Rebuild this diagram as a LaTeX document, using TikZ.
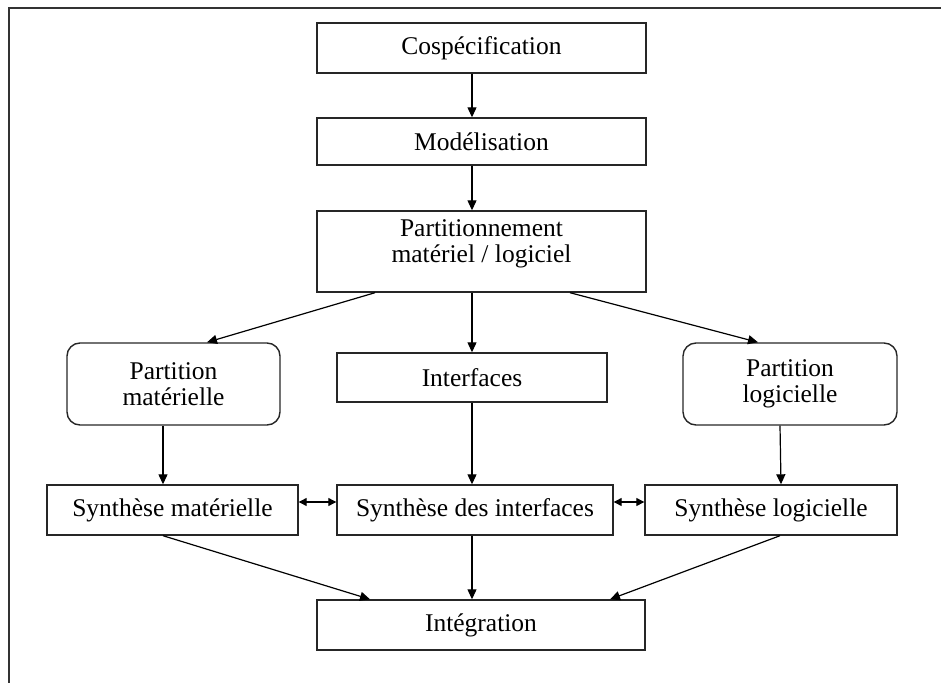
\documentclass[tikz,border=0pt]{standalone}
\usepackage{fontspec}
\setmainfont{Liberation Serif}
\usetikzlibrary{arrows.meta}

\tikzset{
  box/.style={draw=black!85, line width=1.4pt, rectangle, inner sep=0pt,
    align=center, font=\fontsize{25.5}{26.5}\selectfont},
  roundbox/.style={box, rounded corners=13pt},
  txt/.style={inner sep=0pt, align=center, font=\fontsize{25.5}{26.5}\selectfont},
  flow/.style={line width=1.2pt, -{Triangle[length=10pt,width=9pt]}},
  both/.style={line width=1.2pt, {Triangle[length=8pt,width=8pt]}-{Triangle[length=8pt,width=8pt]}},
  frame/.style={draw=black!80, line width=2.6pt}
}

\begin{document}
\begin{tikzpicture}[x=1pt, y=-1pt]
\useasboundingbox (0,0) rectangle (941,682);

% outer frame (open on the right and at the bottom)
\draw[frame] (9,700) -- (9,8) -- (960,8);

% central column
\node[box, minimum width=329pt, minimum height=50pt] (cosp) at (481.5,48) {Cospécification};
\node[box, minimum width=329pt, minimum height=47pt] (model) at (481.5,141.5) {Modélisation};
\node[box, minimum width=329pt, minimum height=81pt] (part) at (481.5,251.5) {};
\node[txt] (partlbl) at (481.5,244) {Partitionnement\\matériel / logiciel};

% partitions
\node[roundbox, minimum width=213pt, minimum height=82pt] (pmat) at (173.5,384) {Partition\\matérielle};
\node[box, minimum width=270pt, minimum height=49pt] (intf) at (472,377.5) {Interfaces};
\node[roundbox, minimum width=214pt, minimum height=82pt] (plog) at (790,384) {Partition\\logicielle};

% syntheses
\node[box, minimum width=251pt, minimum height=50pt] (smat) at (172.5,510) {Synthèse matérielle};
\node[box, minimum width=276pt, minimum height=50pt] (sint) at (475,510) {Synthèse des interfaces};
\node[box, minimum width=252pt, minimum height=50pt] (slog) at (771,510) {Synthèse logicielle};

% integration
\node[box, minimum width=328pt, minimum height=50pt] (integ) at (481,625) {Intégration};

% connectors
\draw[flow] ([xshift=-9.5pt]cosp.south) -- ([xshift=-9.5pt]model.north);
\draw[flow] ([xshift=-9.5pt]model.south) -- ([xshift=-9.5pt]part.north);
\draw[flow] ([xshift=-106.5pt]part.south) -- ([xshift=33.5pt]pmat.north);
\draw[flow] ([xshift=-9.5pt]part.south) -- (intf.north);
\draw[flow] ([xshift=88.5pt]part.south) -- ([xshift=-32pt]plog.north);

\draw[flow] ([xshift=-10.5pt]pmat.south) -- ([xshift=-9.5pt]smat.north);
\draw[flow] (intf.south) -- ([xshift=-3pt]sint.north);
\draw[flow] ([xshift=-10pt]plog.south) -- ([xshift=10pt]slog.north);

\draw[both] ([yshift=8pt]smat.east) -- ([yshift=8pt]sint.west);
\draw[both] ([yshift=8pt]sint.east) -- ([yshift=8pt]slog.west);

\draw[flow] ([xshift=-9.5pt]smat.south) -- ([xshift=-111pt]integ.north);
\draw[flow] ([xshift=-3pt]sint.south) -- ([xshift=-9pt]integ.north);
\draw[flow] ([xshift=9pt]slog.south) -- ([xshift=129pt]integ.north);
\end{tikzpicture}
\end{document}
